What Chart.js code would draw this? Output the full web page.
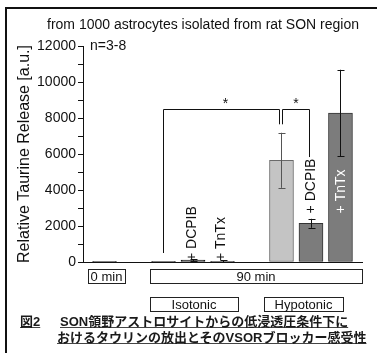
<!DOCTYPE html>
<html>
<head>
<meta charset="utf-8">
<script src="https://cdn.jsdelivr.net/npm/chart.js@4.4.1/dist/chart.umd.min.js"></script>
<style>
    html, body { margin: 0; padding: 0; background: #fff; }
    #wrap { position: relative; width: 377px; height: 353px; overflow: hidden; }
    #chart { position: absolute; left: 0; top: 0; }
    .cap { position: absolute; font: bold 13px "Liberation Sans", "Noto Sans CJK JP", sans-serif; line-height: 16px; color: #1a1a1a; white-space: nowrap; }
    .cap span { text-decoration: underline; text-decoration-color: #444; }
</style>
</head>
<body>
<div id="wrap">
    <canvas id="chart" width="377" height="353"></canvas>
    <div class="cap" style="left:20px; top:314px;"><span>図2</span></div>
    <div class="cap" style="left:60px; top:314px;"><span>SON領野アストロサイトからの低浸透圧条件下に</span></div>
    <div class="cap" style="left:57px; top:330px;"><span>おけるタウリンの放出とそのVSORブロッカー感受性</span></div>
</div>
<script>
// data (empty slots are gaps between groups)
const categories = ["0 min", "", "Isotonic", "+ DCPIB", "+ TnTx", "", "Hypotonic", "+ DCPIB", "+ TnTx"];
const releaseMeans = [40, null, 40, 100, 40, null, 5650, 2150, 8280];
const releaseErrors = [0, null, 0, 60, 60, null, 1530, 250, 2400];
const yTicks = [0, 2000, 4000, 6000, 8000, 10000, 12000];
const groupLabels = ["0 min", "90 min", "Isotonic", "Hypotonic"];
const significance = ["*", "*"];
const chartTitle = "from 1000 astrocytes isolated from rat SON region";
const sampleNote = "n=3-8";
const yAxisTitle = "Relative Taurine Release [a.u.]";

const FONT = "'Liberation Sans', Arial, sans-serif";

function fillFor(i) {
    if (i === 6) return "#c4c4c4";
    if (i >= 7) return "#7c7c7c";
    return "#222";
}

function borderFor(i) {
    if (i === 6) return "#6a6a6a";
    if (i >= 7) return "#333";
    return "#111";
}

const points = [];
releaseMeans.forEach((v, i) => {
    if (v !== null) points.push({ x: i, y: v });
});

const overlay = {
    id: "overlay",
    afterDraw(chart) {
        const ctx = chart.ctx;
        const xs = chart.scales.x;
        const ys = chart.scales.y;
        const px = i => xs.getPixelForValue(i);
        const py = v => ys.getPixelForValue(v);

        ctx.save();

        // frame
        ctx.fillStyle = "#111";
        ctx.fillRect(5, 7, 2, 346);
        ctx.fillRect(5, 7, 372, 2);

        // title + n
        ctx.fillStyle = "#111";
        ctx.font = "14px " + FONT;
        ctx.textAlign = "center";
        ctx.textBaseline = "middle";
        ctx.fillText(chartTitle, 203, 25);
        ctx.textAlign = "left";
        ctx.fillText(sampleNote, 90, 46);

        // error bars
        ctx.lineWidth = 1;
        releaseMeans.forEach((v, i) => {
            const e = releaseErrors[i];
            if (v === null || !e) return;
            const x = Math.round(px(i)) + 0.5;
            const top = py(v + e);
            const bot = py(Math.max(v - e, 0));
            ctx.strokeStyle = i === 6 ? "#555" : "#111";
            ctx.beginPath();
            ctx.moveTo(x, top);
            ctx.lineTo(x, bot);
            ctx.moveTo(x - 3, Math.round(top) + 0.5);
            ctx.lineTo(x + 4, Math.round(top) + 0.5);
            ctx.moveTo(x - 3, Math.round(bot) + 0.5);
            ctx.lineTo(x + 4, Math.round(bot) + 0.5);
            ctx.stroke();
        });

        // rotated treatment labels
        ctx.font = "14px " + FONT;
        ctx.textAlign = "left";
        ctx.textBaseline = "middle";
        [3, 4, 7, 8].forEach(i => {
            const start = i < 6 ? py(0) - 1 : py(2700);
            ctx.save();
            ctx.translate(px(i) + (i < 6 ? -1 : 0.5), start);
            ctx.rotate(-Math.PI / 2);
            ctx.fillStyle = i === 8 ? "#fff" : "#111";
            ctx.fillText(categories[i], 0, 0);
            ctx.restore();
        });

        // significance brackets
        ctx.strokeStyle = "#111";
        const topY = Math.round(py(8500)) + 0.5;
        const br = [
            [Math.round(px(2)) - 0.5, Math.round(px(6)) - 1.5, py(500), py(7650)],
            [Math.round(px(6)) + 1.5, Math.round(px(7)) - 1.5, py(7650), py(5830)]
        ];
        ctx.font = "14px " + FONT;
        ctx.textAlign = "center";
        ctx.fillStyle = "#111";
        br.forEach((b, k) => {
            ctx.beginPath();
            ctx.moveTo(b[0], b[2]);
            ctx.lineTo(b[0], topY);
            ctx.lineTo(b[1], topY);
            ctx.lineTo(b[1], b[3]);
            ctx.stroke();
            ctx.fillText(significance[k], (b[0] + b[1]) / 2 + (k === 0 ? 4 : 0), topY - 5);
        });

        // group boxes under the axis
        const boxes = [
            [88, 125, 269],
            [150, 362, 269],
            [150, 238, 297],
            [264, 343, 297]
        ];
        ctx.font = "13px " + FONT;
        ctx.textBaseline = "middle";
        boxes.forEach((b, k) => {
            ctx.strokeStyle = "#222";
            ctx.strokeRect(b[0] + 0.5, b[2] + 0.5, b[1] - b[0], 14);
            ctx.fillStyle = "#111";
            ctx.fillText(groupLabels[k], (b[0] + b[1]) / 2, b[2] + 8);
        });

        ctx.restore();
    }
};

const chart = new Chart(document.getElementById("chart"), {
    type: "bar",
    data: {
        datasets: [{
            data: points,
            backgroundColor: points.map(p => fillFor(p.x)),
            borderColor: points.map(p => borderFor(p.x)),
            borderWidth: 1,
            borderSkipped: false,
            barThickness: 24
        }]
    },
    options: {
        responsive: false,
        animation: false,
        layout: { padding: { top: 46, right: 15, bottom: 91, left: 0 } },
        plugins: {
            legend: { display: false },
            tooltip: { enabled: false }
        },
        scales: {
            x: {
                type: "linear",
                min: -0.73,
                max: 8.73,
                offset: false,
                ticks: { display: false },
                grid: { display: false },
                border: { color: "#111", width: 1 },
                afterFit: s => { s.height = 0; }
            },
            y: {
                min: 0,
                max: 12000,
                ticks: {
                    stepSize: 1000,
                    autoSkip: false,
                    padding: 2,
                    color: "#111",
                    font: { size: 14, family: FONT },
                    callback: v => yTicks.includes(v) ? String(v) : ""
                },
                grid: { drawOnChartArea: false, tickLength: 5, color: "#111" },
                border: { color: "#111", width: 1 },
                title: {
                    display: true,
                    text: yAxisTitle,
                    color: "#111",
                    font: { size: 16, family: FONT },
                    padding: { top: 15, bottom: 0 }
                },
                afterFit: s => { s.width = 83; }
            }
        }
    },
    plugins: [overlay]
});
</script>
</body>
</html>
